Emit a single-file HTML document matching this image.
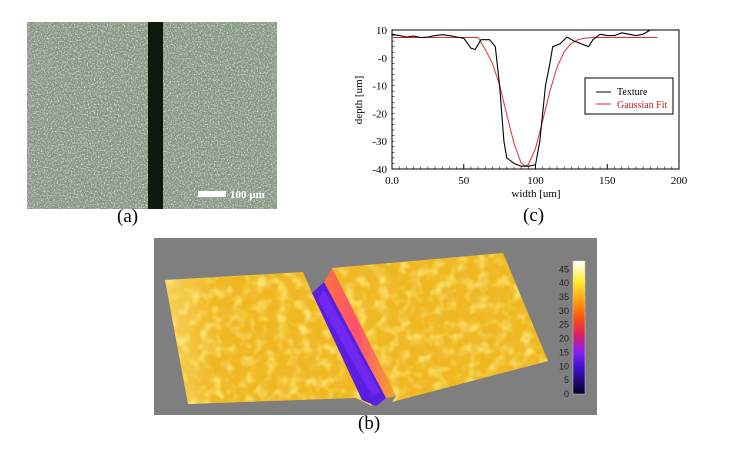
<!DOCTYPE html>
<html><head><meta charset="utf-8">
<style>
html,body{margin:0;padding:0;background:#fff;}
body{width:734px;height:452px;position:relative;overflow:hidden;font-family:"Liberation Serif",serif;}
.lbl{position:absolute;font-size:19px;color:#000;}
</style></head>
<body>
<svg width="734" height="452" viewBox="0 0 734 452" style="position:absolute;left:0;top:0">
<defs>
<filter id="noiseA" x="0" y="0" width="100%" height="100%">
<feTurbulence type="fractalNoise" baseFrequency="0.7" numOctaves="2" seed="3"/>
<feColorMatrix type="matrix" values="0 0 0 0 0.88  0 0 0 0 0.92  0 0 0 0 0.88  0 0 0 2.2 -1.0"/>
</filter>
<filter id="noiseB" x="0" y="0" width="100%" height="100%">
<feTurbulence type="fractalNoise" baseFrequency="0.09" numOctaves="2" seed="7"/>
<feColorMatrix type="matrix" values="0 0 0 0 1  0 0 0 0 0.95  0 0 0 0 0.3  0 0 0 1.8 -0.8"/>
</filter>
<filter id="noiseC" x="0" y="0" width="100%" height="100%">
<feTurbulence type="fractalNoise" baseFrequency="0.1" numOctaves="2" seed="11"/>
<feColorMatrix type="matrix" values="0 0 0 0 0.85  0 0 0 0 0.5  0 0 0 0 0.05  0 0 0 1.8 -0.85"/>
</filter>
<linearGradient id="cbar" x1="0" y1="1" x2="0" y2="0">
<stop offset="0" stop-color="#05002a"/><stop offset="0.2" stop-color="#4010d0"/>
<stop offset="0.32" stop-color="#8a20f0"/><stop offset="0.45" stop-color="#e02060"/>
<stop offset="0.57" stop-color="#ff5010"/><stop offset="0.7" stop-color="#ffa010"/>
<stop offset="0.85" stop-color="#ffee30"/><stop offset="1" stop-color="#ffffff"/>
</linearGradient>
<linearGradient id="trenchG" x1="0" y1="0" x2="1" y2="0">
<stop offset="0" stop-color="#ff7040"/><stop offset="0.45" stop-color="#ff5070"/><stop offset="1" stop-color="#f7a828"/>
</linearGradient>
<linearGradient id="leftShade" x1="0" y1="0" x2="1" y2="0">
<stop offset="0" stop-color="#fff0a0" stop-opacity="0.5"/><stop offset="0.25" stop-color="#fff0a0" stop-opacity="0"/>
</linearGradient>
<clipPath id="clipA"><rect x="27" y="22" width="250" height="187"/></clipPath>
<clipPath id="clipL"><polygon points="165,280 303,272 312,293 372,406 356,398 188,404"/></clipPath>
<clipPath id="clipR"><polygon points="332,268 503,253 548,361 392,402 396,396"/></clipPath>
</defs>

<g>
<rect x="27" y="22" width="250" height="187" fill="#879684"/>
<rect x="27" y="22" width="250" height="187" filter="url(#noiseA)" clip-path="url(#clipA)"/>
<rect x="148" y="22" width="15" height="187" fill="#0d1a10"/>
<rect x="198" y="191" width="28" height="6" fill="#fff"/>
<text x="230" y="198" font-family="Liberation Serif,serif" font-size="11" font-weight="bold" fill="#fff">100 µm</text>
</g>

<g>
<rect x="154" y="238" width="443" height="177" fill="#7f7f7f"/>
<g clip-path="url(#clipL)">
<rect x="160" y="265" width="220" height="145" fill="#f0b820"/>
<rect x="160" y="265" width="220" height="145" filter="url(#noiseB)"/>
<rect x="160" y="265" width="220" height="145" filter="url(#noiseC)"/>
<rect x="160" y="265" width="220" height="145" fill="url(#leftShade)"/>
</g>
<g clip-path="url(#clipR)">
<rect x="325" y="250" width="228" height="160" fill="#f0b820"/>
<rect x="325" y="250" width="228" height="160" filter="url(#noiseB)"/>
<rect x="325" y="250" width="228" height="160" filter="url(#noiseC)"/>
</g>
<polygon points="324,282 332,268 396,396 386,398" fill="url(#trenchG)"/>
<polygon points="312,293 324,282 386,398 376,406 362,400" fill="#5a1ee0"/>
<polygon points="318,300 324,290 380,392 372,396" fill="#7a2cf8" opacity="0.7"/>
<rect x="573" y="261" width="12" height="133" fill="url(#cbar)" stroke="#ccc" stroke-width="0.5"/>
<g id="cbTicks" font-family="Liberation Sans,sans-serif" font-size="9" fill="#222"></g>
</g>

<g>
<rect x="392" y="30" width="287" height="139" fill="#fff" stroke="#000" stroke-width="1"/>
<g id="axes" font-family="Liberation Serif,serif" font-size="11" fill="#000"></g>
<path id="gaussLine" fill="none" stroke="#e03030" stroke-width="1"/>
<path id="texLine" fill="none" stroke="#000" stroke-width="1.1"/>
<text x="536" y="197" text-anchor="middle" font-size="11">width [um]</text>
<text transform="translate(362,100) rotate(-90)" text-anchor="middle" font-size="11">depth [um]</text>
<g>
<rect x="585" y="78" width="88" height="36" fill="#fff" stroke="#000" stroke-width="1"/>
<line x1="596" y1="92" x2="611" y2="92" stroke="#000"/>
<text x="617" y="95" font-size="10">Texture</text>
<line x1="596" y1="104" x2="611" y2="104" stroke="#e03030"/>
<text x="617" y="108" font-size="10" fill="#c02020">Gaussian Fit</text>
</g>
</g>
</svg>
<div class="lbl" style="left:117px;top:206px">(a)</div>
<div class="lbl" style="left:523px;top:205px">(c)</div>
<div class="lbl" style="left:358px;top:413px">(b)</div>
<script>
const texX = [0,5,10,15,20,25,30,35,40,45,50,55,58,62,68,72,75,78,80,85,90,95,100,103,107,110,112,117,122,127,132,137,140,145,150,155,160,165,170,175,180];
const texY = [8.5,8,7.5,7.8,7.3,7.5,8,8.3,8,7.5,7,3.5,3,6.5,6.5,4,-10,-30,-36,-38,-39,-39,-38.5,-30,-10,-2,4,5,7.5,6,5,4,6.5,8.5,8,8,9,8.5,8,8.5,10];
const gaussX = [0,60,65,70,75,80,85,90,93,95,100,105,110,115,120,125,130,135,140,185];
const gaussY = [7.3,7.3,3.0,-2,-9.8,-20.5,-30.8,-37.8,-39,-38.4,-32.6,-22.6,-12,-3.4,2.2,5.2,6.6,7.1,7.3,7.3];
const xTicks = [0,50,100,150,200];
const xTickLabels = ["0.0","50","100","150","200"];
const yTicks = [10,0,-10,-20,-30,-40];
const yTickLabels = ["10","-0","-10","-20","-30","-40"];
const cbTicks = [0,5,10,15,20,25,30,35,40,45];

const NS="http://www.w3.org/2000/svg";
const sx = v => 392 + v/200*287;
const sy = v => 30 + (10-v)/50*139;
function pathOf(xs,ys){return xs.map((x,i)=>(i?"L":"M")+sx(x).toFixed(1)+","+sy(ys[i]).toFixed(1)).join("");}
document.getElementById("texLine").setAttribute("d",pathOf(texX,texY));
document.getElementById("gaussLine").setAttribute("d",pathOf(gaussX,gaussY));
const ax=document.getElementById("axes");
xTicks.forEach((t,i)=>{
  const l=document.createElementNS(NS,"line");
  l.setAttribute("x1",sx(t));l.setAttribute("x2",sx(t));l.setAttribute("y1",169);l.setAttribute("y2",164);l.setAttribute("stroke","#000");
  
  
  ax.appendChild(l);
  const tx=document.createElementNS(NS,"text");
  tx.setAttribute("x",sx(t));tx.setAttribute("y",184);tx.setAttribute("text-anchor","middle");tx.textContent=xTickLabels[i];
  
  
  ax.appendChild(tx);
});
for(let v=0;v<=200;v+=5){const l=document.createElementNS(NS,"line");l.setAttribute("x1",sx(v));l.setAttribute("x2",sx(v));l.setAttribute("y1",169);l.setAttribute("y2",166.5);l.setAttribute("stroke","#000");l.setAttribute("stroke-width","0.6");ax.appendChild(l);}
for(let v=-40;v<=10;v+=2){const l=document.createElementNS(NS,"line");l.setAttribute("x1",392);l.setAttribute("x2",394.5);l.setAttribute("y1",sy(v));l.setAttribute("y2",sy(v));l.setAttribute("stroke","#000");l.setAttribute("stroke-width","0.6");ax.appendChild(l);}
yTicks.forEach((t,i)=>{
  const tx=document.createElementNS(NS,"text");
  tx.setAttribute("x",387);tx.setAttribute("y",sy(t)+4);tx.setAttribute("text-anchor","end");tx.textContent=yTickLabels[i];
  
  
  ax.appendChild(tx);
});
const cb=document.getElementById("cbTicks");
cbTicks.forEach(t=>{
  const tx=document.createElementNS(NS,"text");
  tx.setAttribute("x",569);tx.setAttribute("y",394-t/48*133+3);tx.setAttribute("text-anchor","end");tx.textContent=t;
  
  
  cb.appendChild(tx);
});
</script>
</body></html>
